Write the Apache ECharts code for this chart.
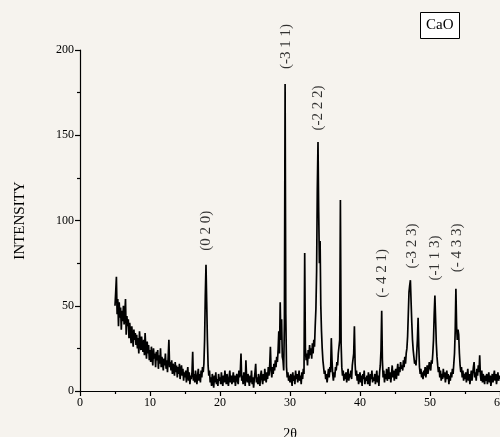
<!DOCTYPE html>
<html>
<head>
<meta charset="utf-8">
<script src="https://cdn.jsdelivr.net/npm/echarts@6/dist/echarts.min.js"></script>
<style>
  html, body { margin: 0; padding: 0; background: #f6f3ee; }
  #xrd { width: 500px; height: 437px; }
</style>
</head>
<body>
<div id="xrd"></div>
<script>
// scan grid: 5.0 .. 60.0 deg, 0.1 deg per step
var scanStart = 5.0;
var scanStep = 0.1;

// intensity, one row per degree (x.0 .. x.9)
var intensity = [
  50, 58, 67, 45, 54, 38, 52, 43, 49, 36,   // 5
  47, 41, 50, 39, 45, 54, 33, 44, 38, 42,   // 6
  31, 40, 35, 28, 38, 32, 26, 36, 30, 34,   // 7
  27, 33, 25, 31, 22, 35, 28, 24, 32, 26,   // 8
  23, 30, 21, 34, 25, 19, 29, 22, 27, 18,   // 9
  24, 17, 26, 20, 15, 25, 19, 22, 14, 23,   // 10
  18, 24, 13, 21, 16, 25, 14, 20, 17, 12,   // 11
  19, 15, 22, 13, 18, 11, 20, 30, 14, 17,   // 12
  12, 18, 10, 16, 13, 9, 17, 11, 15, 8,     // 13
  14, 10, 16, 7, 12, 15, 9, 13, 6, 11,      // 14
  8, 12, 5, 10, 14, 6, 11, 4, 9, 7,         // 15
  11, 23, 6, 10, 5, 12, 8, 4, 9, 13,        // 16
  6, 10, 5, 12, 8, 14, 11, 16, 30, 56,      // 17
  74, 52, 30, 15, 9, 12, 5, 8, 3, 10,       // 18
  6, 2, 9, 5, 11, 4, 7, 3, 10, 6,           // 19
  8, 4, 11, 6, 3, 9, 5, 12, 7, 4,           // 20
  10, 6, 3, 8, 12, 5, 9, 4, 7, 11,          // 21
  5, 9, 3, 7, 10, 6, 4, 12, 8, 11,          // 22
  22, 6, 9, 4, 11, 7, 3, 18, 8, 5,          // 23
  10, 6, 3, 9, 5, 12, 4, 8, 2, 7,           // 24
  11, 16, 5, 8, 4, 10, 6, 3, 9, 12,         // 25
  7, 4, 10, 6, 13, 8, 5, 11, 7, 14,         // 26
  9, 15, 26, 12, 8, 14, 10, 16, 12, 18,     // 27
  14, 20, 17, 24, 35, 22, 52, 30, 42, 20,   // 28
  18, 12, 40, 180, 45, 14, 8, 11, 6, 9,     // 29
  5, 10, 7, 3, 11, 6, 9, 4, 12, 7,          // 30
  10, 5, 8, 12, 6, 9, 4, 11, 7, 13,         // 31
  10, 81, 25, 18, 22, 15, 24, 19, 27, 21,   // 32
  25, 19, 28, 22, 30, 26, 38, 48, 70, 118,  // 33
  146, 105, 75, 88, 50, 35, 25, 18, 14, 10, // 34
  12, 7, 10, 5, 9, 13, 8, 14, 11, 31,       // 35
  18, 10, 6, 11, 8, 14, 12, 17, 15, 22,     // 36
  22, 30, 112, 28, 14, 9, 12, 6, 10, 7,     // 37
  11, 5, 9, 13, 6, 10, 8, 12, 7, 15,        // 38
  14, 22, 38, 16, 9, 12, 6, 10, 4, 8,       // 39
  11, 5, 9, 3, 10, 7, 12, 4, 8, 6,          // 40
  9, 4, 11, 6, 3, 10, 7, 12, 5, 8,          // 41
  6, 10, 4, 8, 12, 5, 9, 3, 11, 15,         // 42
  24, 47, 18, 8, 12, 5, 10, 7, 13, 6,       // 43
  9, 14, 7, 11, 5, 10, 15, 8, 12, 6,        // 44
  10, 13, 7, 12, 16, 9, 14, 11, 17, 13,     // 45
  15, 12, 18, 14, 20, 16, 22, 25, 32, 45,   // 46
  58, 62, 65, 52, 40, 30, 24, 20, 16, 18,   // 47
  15, 22, 30, 43, 26, 14, 10, 13, 8, 11,    // 48
  7, 12, 9, 14, 8, 11, 15, 10, 13, 17,      // 49
  14, 12, 18, 16, 22, 30, 45, 56, 42, 28,   // 50
  20, 15, 11, 14, 8, 12, 6, 10, 7, 13,      // 51
  8, 11, 5, 9, 12, 7, 10, 4, 9, 6,          // 52
  11, 8, 13, 10, 16, 22, 35, 60, 38, 30,    // 53
  36, 33, 22, 15, 11, 14, 8, 12, 6, 10,     // 54
  7, 11, 5, 9, 13, 6, 10, 4, 8, 12,         // 55
  6, 10, 14, 17, 8, 11, 6, 13, 9, 15,       // 56
  11, 21, 9, 6, 12, 5, 10, 7, 4, 9,         // 57
  6, 10, 4, 8, 11, 5, 9, 3, 7, 10,          // 58
  5, 9, 12, 6, 10, 4, 8, 11, 6, 9,          // 59
  7                                         // 60
];

// reflection labels: text, 2theta, intensity at label centre
var hklNames = ['(0 2 0)', '(-3 1 1)', '(-2 2 2)', '(- 4 2 1)', '(-3 2 3)', '(-1 1 3)', '(- 4 3 3)'];
var hklAngle = [17.95, 29.4, 34.05, 43.1, 47.5, 50.7, 53.9];
var hklLevel = [94, 202, 166, 69, 85, 78, 84];

var xTicks = [0, 10, 20, 30, 40, 50, 60];
var yTicks = [0, 50, 100, 150, 200];

var serif = '"Liberation Serif", "Times New Roman", serif';

var pattern = intensity.map(function (v, i) {
  return [+(scanStart + i * scanStep).toFixed(1), v];
});

var labelData = hklNames.map(function (n, i) {
  return { name: n, value: [hklAngle[i], hklLevel[i]] };
});

var blackLine = { color: '#000', width: 1.2 };

var option = {
  animation: false,
  backgroundColor: '#f6f3ee',
  title: {
    text: 'CaO',
    left: 420,
    top: 12,
    padding: [5, 6],
    borderColor: '#000',
    borderWidth: 1,
    backgroundColor: '#fff',
    textStyle: { fontFamily: serif, fontSize: 15, fontWeight: 'normal', color: '#000', lineHeight: 17 }
  },
  grid: { left: 80, right: 0, top: 50, bottom: 46, containLabel: false, outerBoundsMode: 'none' },
  xAxis: {
    type: 'value',
    min: xTicks[0],
    max: xTicks[xTicks.length - 1],
    interval: 10,
    name: '2θ',
    nameLocation: 'middle',
    nameGap: 36,
    nameTextStyle: { fontFamily: serif, fontSize: 14, color: '#000' },
    axisLine: { lineStyle: blackLine },
    axisTick: { show: true, length: 5, lineStyle: blackLine },
    minorTick: { show: true, splitNumber: 2, length: 3, lineStyle: blackLine },
    splitLine: { show: false },
    axisLabel: { fontFamily: serif, fontSize: 12, color: '#000', margin: 6, showMaxLabel: true, hideOverlap: false }
  },
  yAxis: {
    type: 'value',
    min: yTicks[0],
    max: yTicks[yTicks.length - 1],
    interval: 50,
    name: 'INTENSITY',
    nameLocation: 'middle',
    nameRotate: 90,
    nameGap: 52,
    nameTextStyle: { fontFamily: serif, fontSize: 15, color: '#000' },
    axisLine: { show: true, lineStyle: blackLine },
    axisTick: { show: true, length: 5, lineStyle: blackLine },
    minorTick: { show: true, splitNumber: 2, length: 3, lineStyle: blackLine },
    splitLine: { show: false },
    axisLabel: { fontFamily: serif, fontSize: 12, color: '#000', margin: 6 }
  },
  series: [
    {
      type: 'line',
      data: pattern,
      showSymbol: false,
      symbol: 'none',
      lineStyle: { color: '#000', width: 1.7 },
      silent: true
    },
    {
      type: 'scatter',
      data: labelData,
      symbolSize: 1,
      itemStyle: { color: 'rgba(0,0,0,0)' },
      clip: false,
      silent: true,
      label: {
        show: true,
        position: 'inside',
        rotate: 90,
        formatter: '{b}',
        fontFamily: serif,
        fontSize: 15,
        color: '#000'
      }
    }
  ]
};

var chart = echarts.init(document.getElementById('xrd'));
chart.setOption(option);
</script>
</body>
</html>
